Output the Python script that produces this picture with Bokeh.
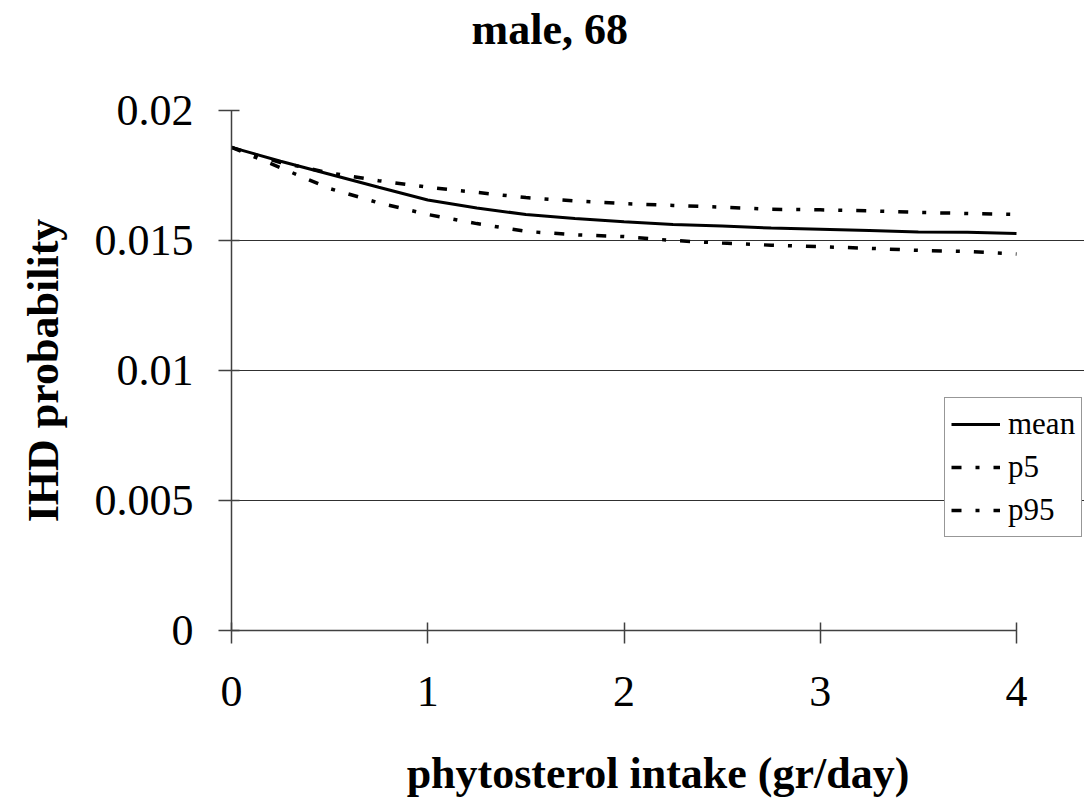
from bokeh.plotting import figure
from bokeh.models import FixedTicker, Legend, LegendItem, Range1d, Title
from bokeh.embed import file_html
from bokeh.resources import INLINE

intake = [0, 0.25, 0.5, 0.75, 1.0, 1.25, 1.5, 1.75, 2.0, 2.25, 2.5, 2.75, 3.0, 3.25, 3.5, 3.75, 4.0]
mean = [0.01858, 0.01805, 0.01755, 0.01705, 0.01656, 0.01625, 0.01600, 0.01585, 0.01572,
        0.01562, 0.01556, 0.01548, 0.01543, 0.01538, 0.01533, 0.01532, 0.01527]
p5 = [0.01858, 0.01780, 0.01700, 0.01645, 0.01600, 0.01565, 0.01535, 0.01522, 0.01515,
      0.01500, 0.01490, 0.01482, 0.01476, 0.01470, 0.01462, 0.01458, 0.01448]
p95 = [0.01858, 0.01800, 0.01760, 0.01730, 0.01705, 0.01685, 0.01665, 0.01652, 0.01642,
       0.01635, 0.01628, 0.01620, 0.01618, 0.01614, 0.01608, 0.01604, 0.01600]
y_ticks = [0, 0.005, 0.01, 0.015, 0.02]
y_tick_labels = ["0", "0.005", "0.01", "0.015", "0.02"]
x_ticks = [0, 1, 2, 3, 4]

FONT = "Liberation Serif"

# frame spans to the right edge so the legend can overhang the axis end;
# axis and grid are bounded to the data span 0..4
x_end = 4 * (1084 - 231) / (1016 - 231)

p = figure(width=1084, height=803, output_backend="svg", toolbar_location=None,
           title=None,
           x_range=Range1d(0, x_end), y_range=Range1d(0, 0.02),
           min_border_left=231, min_border_right=0, min_border_top=110, min_border_bottom=173)
p.outline_line_color = None
p.background_fill_color = "white"
p.border_fill_color = "white"

# spacer panel between frame and title
spacer = Title(text=" ", text_font_size="1px", standoff=52)
p.add_layout(spacer, "above")
title = Title(text="male, 68", text_font=FONT, text_font_style="bold",
              text_font_size="44px", text_color="black", align="left",
              offset=240, vertical_align="bottom", standoff=4)
p.add_layout(title, "above")

for ax in (p.xaxis[0], p.yaxis[0]):
    ax.axis_line_color = "#404040"
    ax.axis_line_width = 1.5
    ax.major_tick_line_color = "#404040"
    ax.major_tick_line_width = 1.5
    ax.major_tick_in = 8
    ax.major_tick_out = 13
    ax.minor_tick_line_color = None
    ax.major_label_text_font = FONT
    ax.major_label_text_font_size = "44px"
    ax.major_label_text_color = "black"
    ax.axis_label_text_font = FONT
    ax.axis_label_text_font_style = "bold"
    ax.axis_label_text_font_size = "44px"
    ax.axis_label_text_color = "black"

p.xaxis.bounds = (0, 4)
p.xaxis.ticker = FixedTicker(ticks=x_ticks)
p.yaxis.ticker = FixedTicker(ticks=y_ticks)
p.yaxis.major_label_overrides = {t: l for t, l in zip(y_ticks, y_tick_labels)}
p.xaxis.axis_label = "phytosterol intake (gr/day)"
p.yaxis.axis_label = "IHD probability"
p.xaxis.major_label_standoff = 33
p.yaxis.major_label_standoff = 25
p.xaxis.axis_label_standoff = 40
p.yaxis.axis_label_standoff = 24

p.xgrid.grid_line_color = None
p.ygrid.ticker = FixedTicker(ticks=[0.005, 0.01, 0.015])
p.ygrid.bounds = (0, 4)
p.ygrid.grid_line_color = "#303030"
p.ygrid.grid_line_width = 1

r_mean = p.line(intake, mean, line_color="black", line_width=3)
r_p5 = p.line(intake, p5, line_color="black", line_width=3.5, line_dash="10 14 4 14")
r_p95 = p.line(intake, p95, line_color="black", line_width=3.5, line_dash="10 14 4 14")

legend = Legend(items=[LegendItem(label="mean", renderers=[r_mean]),
                       LegendItem(label="p5", renderers=[r_p5]),
                       LegendItem(label="p95", renderers=[r_p95])],
                location=(713, 93))
legend.border_line_color = "#303030"
legend.border_line_width = 1.5
legend.background_fill_color = "white"
legend.background_fill_alpha = 1
legend.label_text_font = FONT
legend.label_text_font_size = "31px"
legend.label_text_color = "black"
legend.glyph_width = 49
legend.glyph_height = 40
legend.label_height = 40
legend.label_standoff = 8
legend.spacing = 3
legend.padding = 6
legend.margin = 0
p.add_layout(legend, "center")

open("out.html", "w").write(file_html(p, INLINE))
